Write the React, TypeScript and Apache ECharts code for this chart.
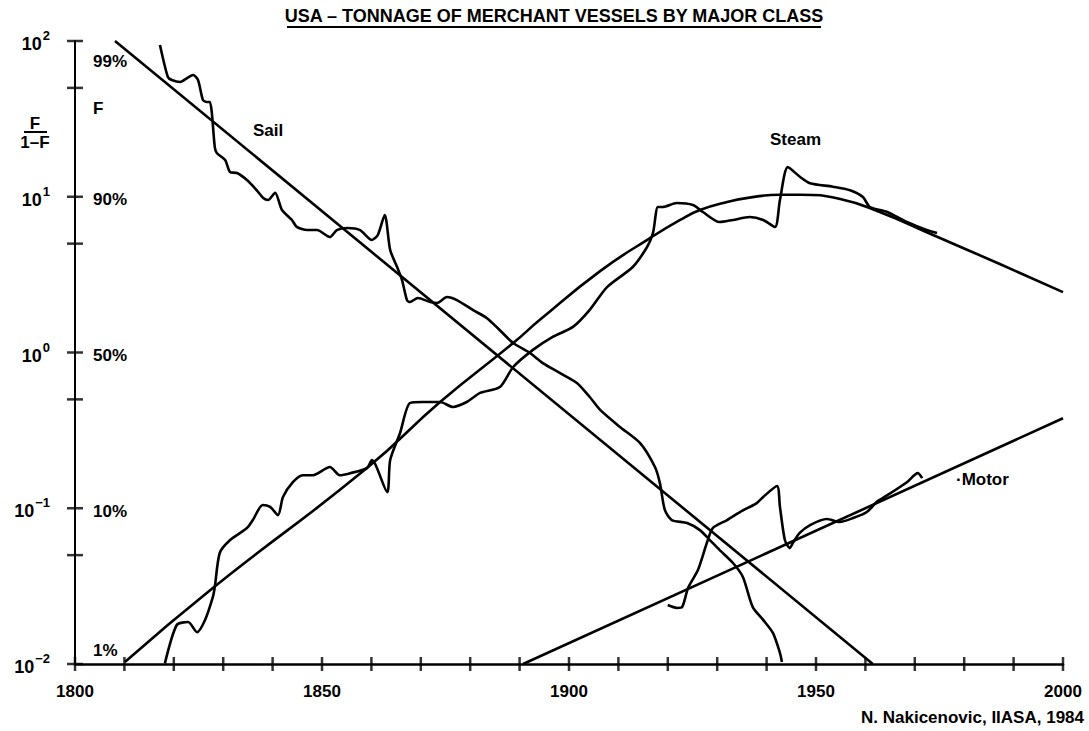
import React, { useEffect, useRef } from 'react';
import * as echarts from 'echarts';

const FONT = '"Liberation Sans", Arial, sans-serif';

// [year, F/(1-F)]
const sailData: number[][] = [
  [1817.2, 94.3], [1818.8, 58.7], [1819.6, 56.2], [1821.3, 54.6], [1822.7, 57.8], [1823.9, 60.5],
  [1824.9, 56.2], [1825.9, 41.8], [1826.7, 40.6], [1827.3, 40.6], [1827.7, 34.5], [1828.3, 20.8],
  [1828.7, 19.1], [1830.4, 17.2], [1831.4, 14.4], [1832.8, 14.2], [1834.8, 12.8], [1836.8, 11.0],
  [1838.1, 9.81], [1839.1, 9.53], [1840.5, 10.6], [1841.9, 8.22], [1843.9, 7.1], [1844.9, 6.4],
  [1847.0, 6.11], [1849.0, 6.11], [1851.6, 5.51], [1853.0, 6.11], [1855.1, 6.3], [1857.7, 6.11],
  [1860.1, 5.28], [1861.3, 5.68], [1862.7, 7.64], [1863.8, 4.55], [1865.2, 3.54], [1866.2, 2.92],
  [1867.2, 2.17], [1867.8, 2.11], [1869.4, 2.24], [1871.9, 2.11], [1873.3, 2.08], [1875.3, 2.27],
  [1877.3, 2.17], [1880.6, 1.87], [1883.4, 1.66], [1886.0, 1.39], [1888.7, 1.15], [1892.1, 0.993],
  [1894.7, 0.855], [1898.2, 0.738], [1901.6, 0.637], [1904.2, 0.518], [1906.3, 0.428], [1910.3, 0.333],
  [1914.4, 0.262], [1917.4, 0.184], [1918.4, 0.145], [1919.4, 0.0975], [1920.8, 0.084], [1923.9, 0.0803],
  [1926.5, 0.0724], [1928.5, 0.0625], [1930.5, 0.0539], [1933.2, 0.0445], [1935.2, 0.0362], [1937.2, 0.0232],
  [1939.3, 0.0192], [1941.3, 0.0158], [1942.7, 0.0118], [1943.1, 0.0103],
];
const sailFit: number[][] = [[1808.1, 100], [1961.5, 0.01]];

const steamData: number[][] = [
  [1818.2, 0.0101], [1820.6, 0.0178], [1822.9, 0.0186], [1824.7, 0.016], [1826.3, 0.0191], [1827.9, 0.0269],
  [1828.3, 0.0312], [1829.3, 0.0516], [1831.4, 0.0625], [1834.8, 0.0746], [1836.0, 0.084], [1838.0, 0.105],
  [1839.5, 0.102], [1841.1, 0.0904], [1842.1, 0.118], [1844.1, 0.147], [1846.1, 0.163], [1848.2, 0.163],
  [1851.6, 0.184], [1853.6, 0.163], [1855.7, 0.168], [1859.1, 0.181], [1860.1, 0.204], [1863.2, 0.127],
  [1863.8, 0.204], [1865.8, 0.304], [1867.8, 0.474], [1870.4, 0.481], [1873.9, 0.481], [1876.5, 0.447],
  [1879.3, 0.481], [1882.0, 0.55], [1886.0, 0.6], [1888.7, 0.807], [1892.7, 1.04], [1896.7, 1.26],
  [1900.8, 1.46], [1904.2, 1.88], [1907.7, 2.63], [1912.9, 3.54], [1915.8, 4.76], [1917.0, 5.85],
  [1918.0, 8.59], [1919.0, 8.59], [1921.8, 9.12], [1925.1, 8.85], [1927.1, 7.98], [1930.5, 6.88],
  [1933.2, 7.1], [1936.6, 7.41], [1939.3, 7.1], [1941.7, 6.4], [1942.7, 9.53], [1944.3, 15.5],
  [1946.8, 13.4], [1948.8, 12.2], [1953.4, 11.6], [1956.9, 11.0], [1959.5, 9.95], [1960.9, 8.59],
  [1964.4, 7.98], [1968.4, 6.88], [1972.4, 6.11], [1974.5, 5.85],
];
const steamFit: number[][] = [
  [1810.1, 0.0103], [1827.9, 0.0308], [1859.1, 0.181], [1873.9, 0.481], [1888.7, 1.15], [1894.1, 1.62],
  [1906.3, 3.33], [1916.4, 5.43], [1922.5, 7.1], [1926.5, 8.22], [1932.0, 9.26], [1937.2, 9.95],
  [1942.7, 10.3], [1946.8, 10.3], [1954.9, 9.67], [1962.9, 7.98], [1973.7, 5.68], [1987.2, 3.7], [2000, 2.44],
];

const motorData: number[][] = [
  [1920.0, 0.0239], [1921.8, 0.0229], [1922.9, 0.0232], [1924.1, 0.0308], [1926.1, 0.0401], [1927.9, 0.0598],
  [1929.1, 0.0746], [1932.0, 0.084], [1934.6, 0.0946], [1938.0, 0.108], [1939.3, 0.118], [1942.1, 0.139],
  [1942.7, 0.102], [1943.7, 0.0625], [1944.7, 0.0555], [1945.3, 0.0598], [1946.7, 0.0694], [1948.8, 0.078],
  [1952.2, 0.0853], [1954.8, 0.0816], [1957.5, 0.0865], [1960.3, 0.0946], [1962.3, 0.11], [1963.5, 0.116],
  [1968.4, 0.147], [1970.6, 0.168], [1971.5, 0.156],
];
const motorFit: number[][] = [[1890.7, 0.01], [2000, 0.378]];

const xTickYears = [1800, 1810, 1820, 1830, 1840, 1850, 1860, 1870, 1880, 1890, 1900,
  1910, 1920, 1930, 1940, 1950, 1960, 1970, 1980, 1990, 2000];
const yTickValues = [0.01, 0.05, 0.1, 0.5, 1, 5, 10, 50, 100];
const shareLabels = ['99%', 'F', '90%', '50%', '10%', '1%'];

const TITLE = 'USA – TONNAGE OF MERCHANT VESSELS BY MAJOR CLASS';
const CREDIT = 'N. Nakicenovic, IIASA, 1984';

function txt(text: string, x: number, y: number, size: number, align = 'left') {
  return {
    type: 'text',
    x,
    y,
    silent: true,
    style: {
      text,
      fill: '#000',
      font: `bold ${size}px ${FONT}`,
      textAlign: align,
      align,
      textVerticalAlign: 'middle',
      verticalAlign: 'middle',
    },
  };
}

export default function App() {
  const ref = useRef<HTMLDivElement>(null);
  useEffect(() => {
    document.body.style.margin = '0';
    const chart = echarts.init(ref.current!, undefined, { renderer: 'svg' });
    const lineSeries = (data: number[][], smooth: number | boolean) => ({
      type: 'line',
      data,
      showSymbol: false,
      smooth,
      silent: true,
      lineStyle: { color: '#000', width: 2.6 },
    });
    const shareY = [61, 108, 199, 355, 511, 650];
    chart.setOption({
      animation: false,
      backgroundColor: '#fff',
      grid: { left: 75, right: 26, top: 41, bottom: 67 },
      xAxis: {
        type: 'value',
        min: 1800,
        max: 2000,
        interval: 50,
        axisLine: { lineStyle: { color: '#000', width: 2.5 } },
        axisTick: { show: false },
        splitLine: { show: false },
        axisLabel: {
          color: '#000', fontFamily: FONT, fontWeight: 'bold', fontSize: 17, margin: 19,
          formatter: (v: number) => String(v),
        },
      },
      yAxis: {
        type: 'log',
        logBase: 10,
        min: 0.01,
        max: 100,
        interval: 1,
        axisLine: { show: true, lineStyle: { color: '#000', width: 2 } },
        axisTick: { show: false },
        splitLine: { show: false },
        axisLabel: {
          margin: 25,
          formatter: (v: number) => {
            const e = Math.round(Math.log10(v));
            const s = e < 0 ? '−' + -e : String(e);
            return '{b|10}{s|' + s + '}';
          },
          rich: {
            b: { fontFamily: FONT, fontWeight: 'bold', fontSize: 18, color: '#000', lineHeight: 24, verticalAlign: 'bottom' },
            s: { fontFamily: FONT, fontWeight: 'bold', fontSize: 13, color: '#000', lineHeight: 12, verticalAlign: 'top', padding: [0, 0, 0, 1] },
          },
        },
      },
      series: [
        lineSeries(sailData, 0.25),
        lineSeries(sailFit, false),
        lineSeries(steamData, 0.25),
        lineSeries(steamFit, 0.5),
        lineSeries(motorData, 0.25),
        lineSeries(motorFit, false),
        {
          type: 'scatter',
          data: yTickValues.map((v) => [1800, v]),
          symbol: 'rect',
          symbolSize: [16, 2.5],
          itemStyle: { color: '#000' },
          silent: true,
          clip: false,
        },
        {
          type: 'scatter',
          data: xTickYears.map((yr) => [yr, 0.01]),
          symbol: 'rect',
          symbolSize: [2.5, 14],
          itemStyle: { color: '#000' },
          silent: true,
          clip: false,
        },
      ],
      graphic: [
        txt(TITLE, 554, 16, 18, 'center'),
        { type: 'line', silent: true, shape: { x1: 287, y1: 27, x2: 821, y2: 27 }, style: { stroke: '#000', lineWidth: 2 } },
        txt('F', 35, 123, 17, 'center'),
        { type: 'line', silent: true, shape: { x1: 24, y1: 132, x2: 47, y2: 132 }, style: { stroke: '#000', lineWidth: 2 } },
        txt('1–F', 35, 142, 17, 'center'),
        ...shareLabels.map((s, i) => txt(s, 93, shareY[i], 17)),
        txt('Sail', 253, 130, 17),
        txt('Steam', 770, 139, 17),
        txt('·Motor', 956, 479, 17),
        txt(CREDIT, 1084, 717, 17, 'right'),
      ],
    });
    return () => chart.dispose();
  }, []);
  return <div ref={ref} style={{ width: 1089, height: 731 }} />;
}
